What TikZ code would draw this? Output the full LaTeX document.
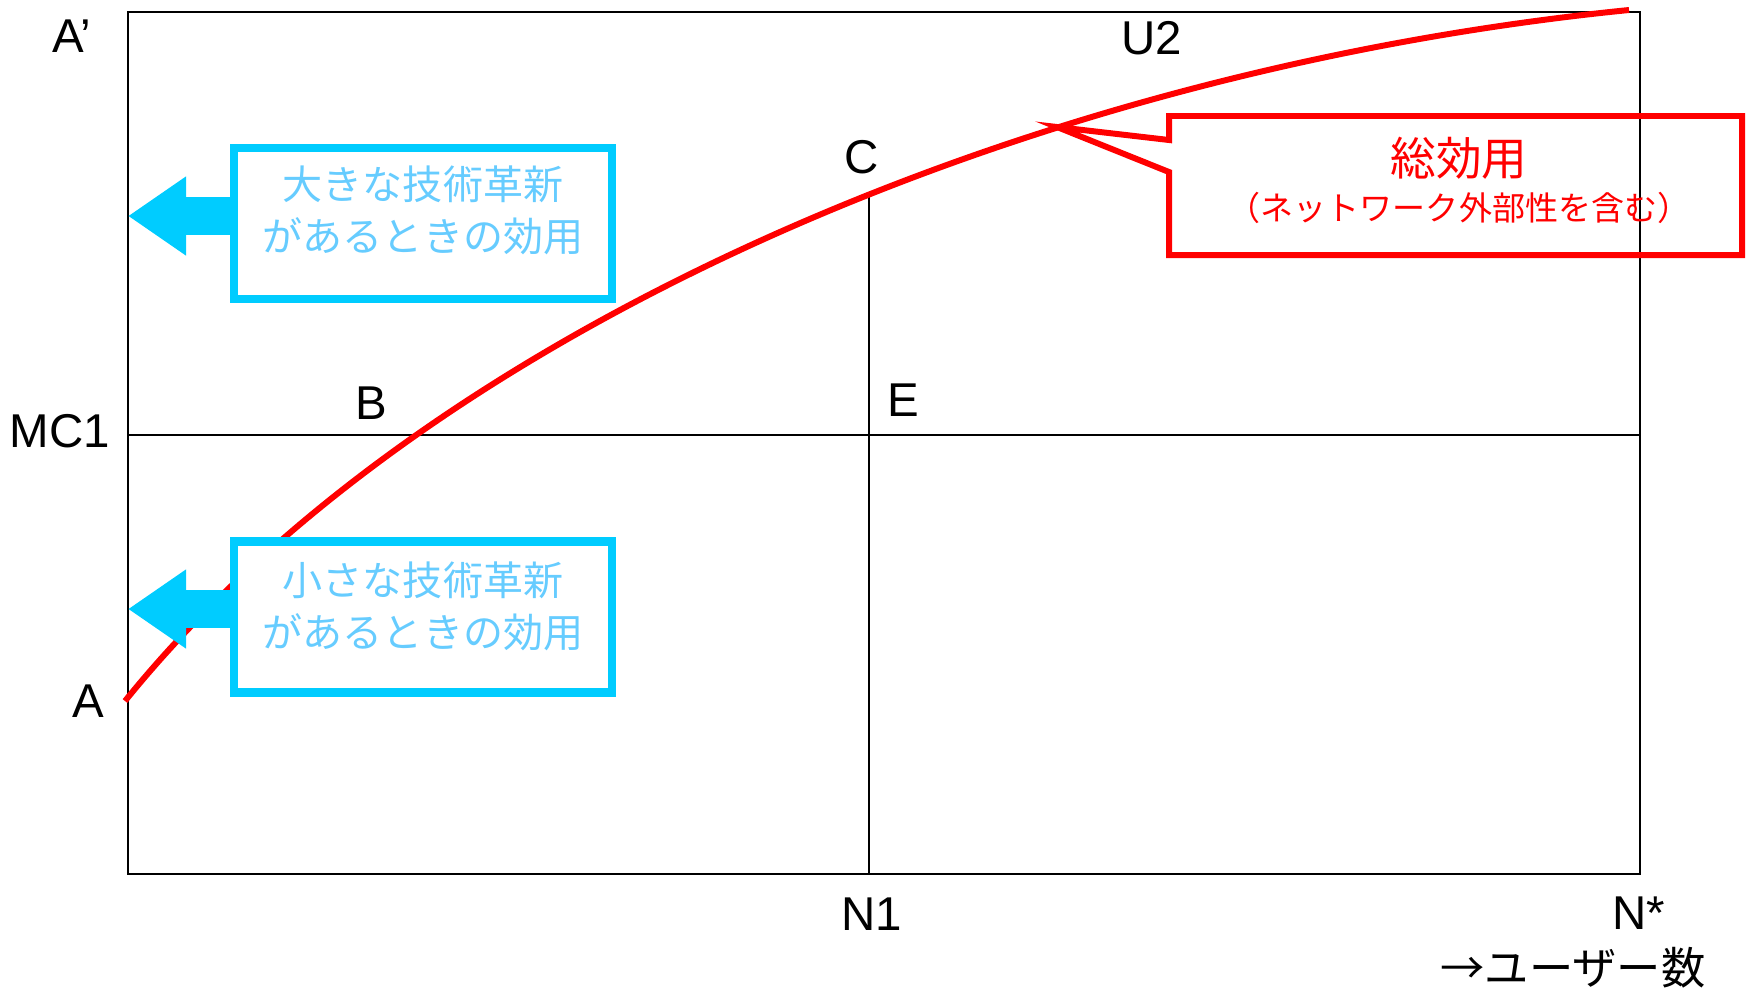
\documentclass[tikz,border=0pt]{standalone}
\usepackage{fontspec}
\setmainfont{Liberation Sans}
\newfontfamily\jpfont{Noto Sans CJK JP}
\usetikzlibrary{arrows.meta}
\definecolor{sky}{HTML}{00CCFF}
\definecolor{skytext}{HTML}{66CCFF}

\begin{document}
\begin{tikzpicture}[line width=0.7pt,
  lbl/.style={font=\fontsize{13.5}{16}\selectfont, inner sep=0pt},
  innobox/.style={draw=sky, line width=2.3pt, fill=white, minimum width=3.78cm, minimum height=1.51cm, inner sep=0pt},
  innotext/.style={text=skytext, font=\jpfont\fontsize{11.4}{14.8}\selectfont, align=center, inner sep=0pt},
  innoarrow/.style={sky, line width=0.38cm, -{Triangle[length=0.58cm, width=0.75cm]}}]
\useasboundingbox (0,0) rectangle (17.46,-9.95);
% frame and guide lines
\draw (1.28,-0.12) rectangle (16.40,-8.74);
\coordinate (C) at (8.69,-1.97);
\coordinate (tip) at (10.57,-1.27);
\draw (1.28,-4.35) -- (16.40,-4.35);
\draw (C) -- (8.69,-8.74);
% total utility curve
\draw[red, line width=1.7pt] (1.25,-7.01) .. controls (4.25,-3.30) and (10.29,-0.70) .. (16.29,-0.10);
% callout
\draw[red, line width=1.7pt] (11.69,-1.16) -- (17.42,-1.16) -- (17.42,-2.55) -- (11.69,-2.55) -- (11.69,-1.72) -- (tip) -- (11.69,-1.40) -- cycle;
\node[text=red, font=\jpfont\fontsize{13}{15}\selectfont, inner sep=0pt] (total) at (14.59,-1.58) {総効用};
\node[text=red, font=\jpfont\fontsize{9.4}{11}\selectfont, inner sep=0pt] (totalnote) at (14.59,-2.08) {（ネットワーク外部性を含む）};
% innovation boxes
\coordinate (bigtip) at (1.28,-2.16);
\coordinate (smalltip) at (1.28,-6.09);
\draw[innoarrow] (2.34,-2.16) -- (bigtip);
\draw[innoarrow] (2.34,-6.09) -- (smalltip);
\node[innobox] (bigbox) at (4.23,-2.235) {};
\node[innotext] (bigtext) at (4.23,-2.10) {大きな技術革新\\があるときの効用};
\node[innobox] (smallbox) at (4.23,-6.17) {};
\node[innotext] (smalltext) at (4.23,-6.06) {小さな技術革新\\があるときの効用};
% labels
\node[lbl] (Ap) at (0.72,-0.36) {A’};
\node[lbl] (U2) at (11.52,-0.38) {U2};
\node[lbl] (Clbl) at (8.62,-1.57) {C};
\node[lbl] (Blbl) at (3.71,-4.03) {B};
\node[lbl] (Elbl) at (9.03,-4.00) {E};
\node[lbl] (MC1) at (0.60,-4.31) {MC1};
\node[lbl] (Albl) at (0.88,-7.01) {A};
\node[lbl] (N1) at (8.72,-9.14) {N1};
\node[lbl] (Nstar) at (16.39,-9.13) {N*};
\node[lbl, font=\jpfont\fontsize{12.6}{15}\selectfont, anchor=base] (users) at (15.73,-9.84) {→ユーザー数};
\end{tikzpicture}
\end{document}
